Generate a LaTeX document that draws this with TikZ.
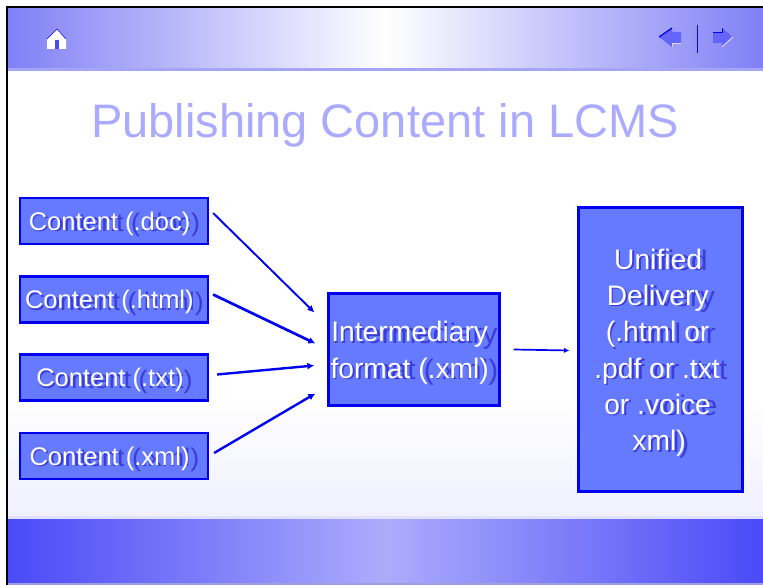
\documentclass[tikz,border=0pt]{standalone}
\usepackage{fontspec}
\setmainfont{Liberation Sans}
\usetikzlibrary{arrows.meta,positioning}
\definecolor{boxfill}{RGB}{102,122,255}
\definecolor{boxline}{RGB}{0,0,238}
\definecolor{shade}{RGB}{60,60,215}
\definecolor{titleblue}{RGB}{170,170,255}
\definecolor{bandA}{RGB}{128,128,246}
\definecolor{bandB}{RGB}{74,74,248}
\definecolor{bandC}{RGB}{172,172,252}
\definecolor{rule}{RGB}{165,165,248}
\definecolor{iconlight}{RGB}{215,215,252}
\newcommand{\shln}[1]{\leavevmode\rlap{\kern.8pt\raisebox{-1.4pt}{\scalebox{1.055}[1]{\textcolor{shade}{#1}}}}\rlap{\textcolor{white}{#1}}\hphantom{\scalebox{1.055}[1]{#1}}\rule{0pt}{1em}}
\tikzset{
  x=1pt,y=-1pt,
  srcbox/.style={draw=boxline,line width=2.2pt,fill=boxfill,minimum width=188pt,minimum height=46pt,inner sep=0pt,font=\fontsize{25.5}{25.5}\selectfont,anchor=center},
  bigbox/.style={draw=boxline,line width=2.2pt,fill=boxfill,inner sep=0pt,align=center,anchor=center,font=\fontsize{28.2}{36.3}\selectfont},
  flow/.style={draw=boxline,-{Latex[length=7pt,width=7pt]}},
}
\begin{document}
\begin{tikzpicture}
\useasboundingbox (0,0) rectangle (763,585);
\fill[white] (0,0) rectangle (763,585);
% page background
\shade[top color=white,bottom color=blue!6!white] (7,400) rectangle (763,517);
% header band
\shade[left color=bandA,right color=white] (7,7) rectangle (385,68);
\shade[left color=white,right color=bandA] (385,7) rectangle (763,68);
\fill[rule] (7,68) rectangle (763,71);
% footer band
\fill[blue!12!white] (7,516) rectangle (763,519);
\shade[left color=bandB,right color=bandC] (7,519) rectangle (385,583);
\shade[left color=bandC,right color=bandB] (385,519) rectangle (763,583);
% frame
\fill[rule!80!gray] (7,583) rectangle (763,585);
\fill[black] (6,6) rectangle (763,8);
\fill[black] (6,6) rectangle (8,585);
% home icon
\fill[white] (57,29) -- (66,39) -- (66,49) -- (47,49) -- (47,39) -- cycle;
\draw[boxline,line width=.5pt] (47,39) -- (57,29) -- (66,39);
\fill[bandB] (54.5,40) rectangle (58.5,49);
% back / forward icons
\fill[bandB!85!white] (659,37) -- (672,28) -- (672,32) -- (681,32) -- (681,43) -- (672,43) -- (672,47) -- cycle;
\draw[boxline,line width=1.2pt] (659,37) -- (672,28);
\draw[iconlight,line width=1pt] (672,47) -- (672,43.5) -- (681,43.5);
\draw[boxline,line width=1pt] (697,25) -- (697,53);
\fill[bandB!85!white] (733,37) -- (722,28) -- (722,32) -- (713,32) -- (713,43) -- (722,43) -- (722,47) -- cycle;
\draw[boxline,line width=.8pt] (713,32) -- (722,32) -- (722,28);
\draw[iconlight,line width=1pt] (722,47) -- (733,37);
% title
\node[text=titleblue,font=\fontsize{47}{47}\selectfont] (title) at (385,125) {Publishing Content in LCMS};
% boxes
\node[srcbox] (doc) at (114,221) {\shln{Content (.doc)}};
\node[srcbox] (html) at (114,299.5) {\shln{Content (.html)}};
\node[srcbox] (txt) at (114,377.5) {\shln{Content (.txt)}};
\node[srcbox] (xml) at (114,456) {\shln{Content (.xml)}};
\node[bigbox,minimum width=171pt,minimum height=112pt] (im) at (414,349.5)
  {\shln{Intermediary}\\\shln{format (.xml)}};
\node[bigbox,minimum width=164pt,minimum height=284pt] (ud) at (660.5,349.5)
  {\shln{Unified}\\\shln{Delivery}\\\shln{(.html or}\\\shln{.pdf or .txt}\\\shln{or .voice}\\\shln{xml)}};
% connectors
\draw[flow,line width=1.9pt] ([shift={(4,-8)}]doc.east) -- ([shift={(-13,-37)}]im.west);
\draw[flow,line width=2.7pt] ([shift={(4,-5)}]html.east) -- ([shift={(-12,-6)}]im.west);
\draw[flow,line width=2.4pt] ([shift={(8,-3)}]txt.east) -- ([shift={(-13,16)}]im.west);
\draw[flow,line width=2.4pt] ([shift={(5,-3)}]xml.east) -- ([shift={(-12,44)}]im.west);
\draw[flow,line width=1.7pt,-{Latex[length=5.5pt,width=5.5pt]}] ([shift={(13,0)}]im.east) -- ([shift={(-8,1)}]ud.west);
\end{tikzpicture}
\end{document}
